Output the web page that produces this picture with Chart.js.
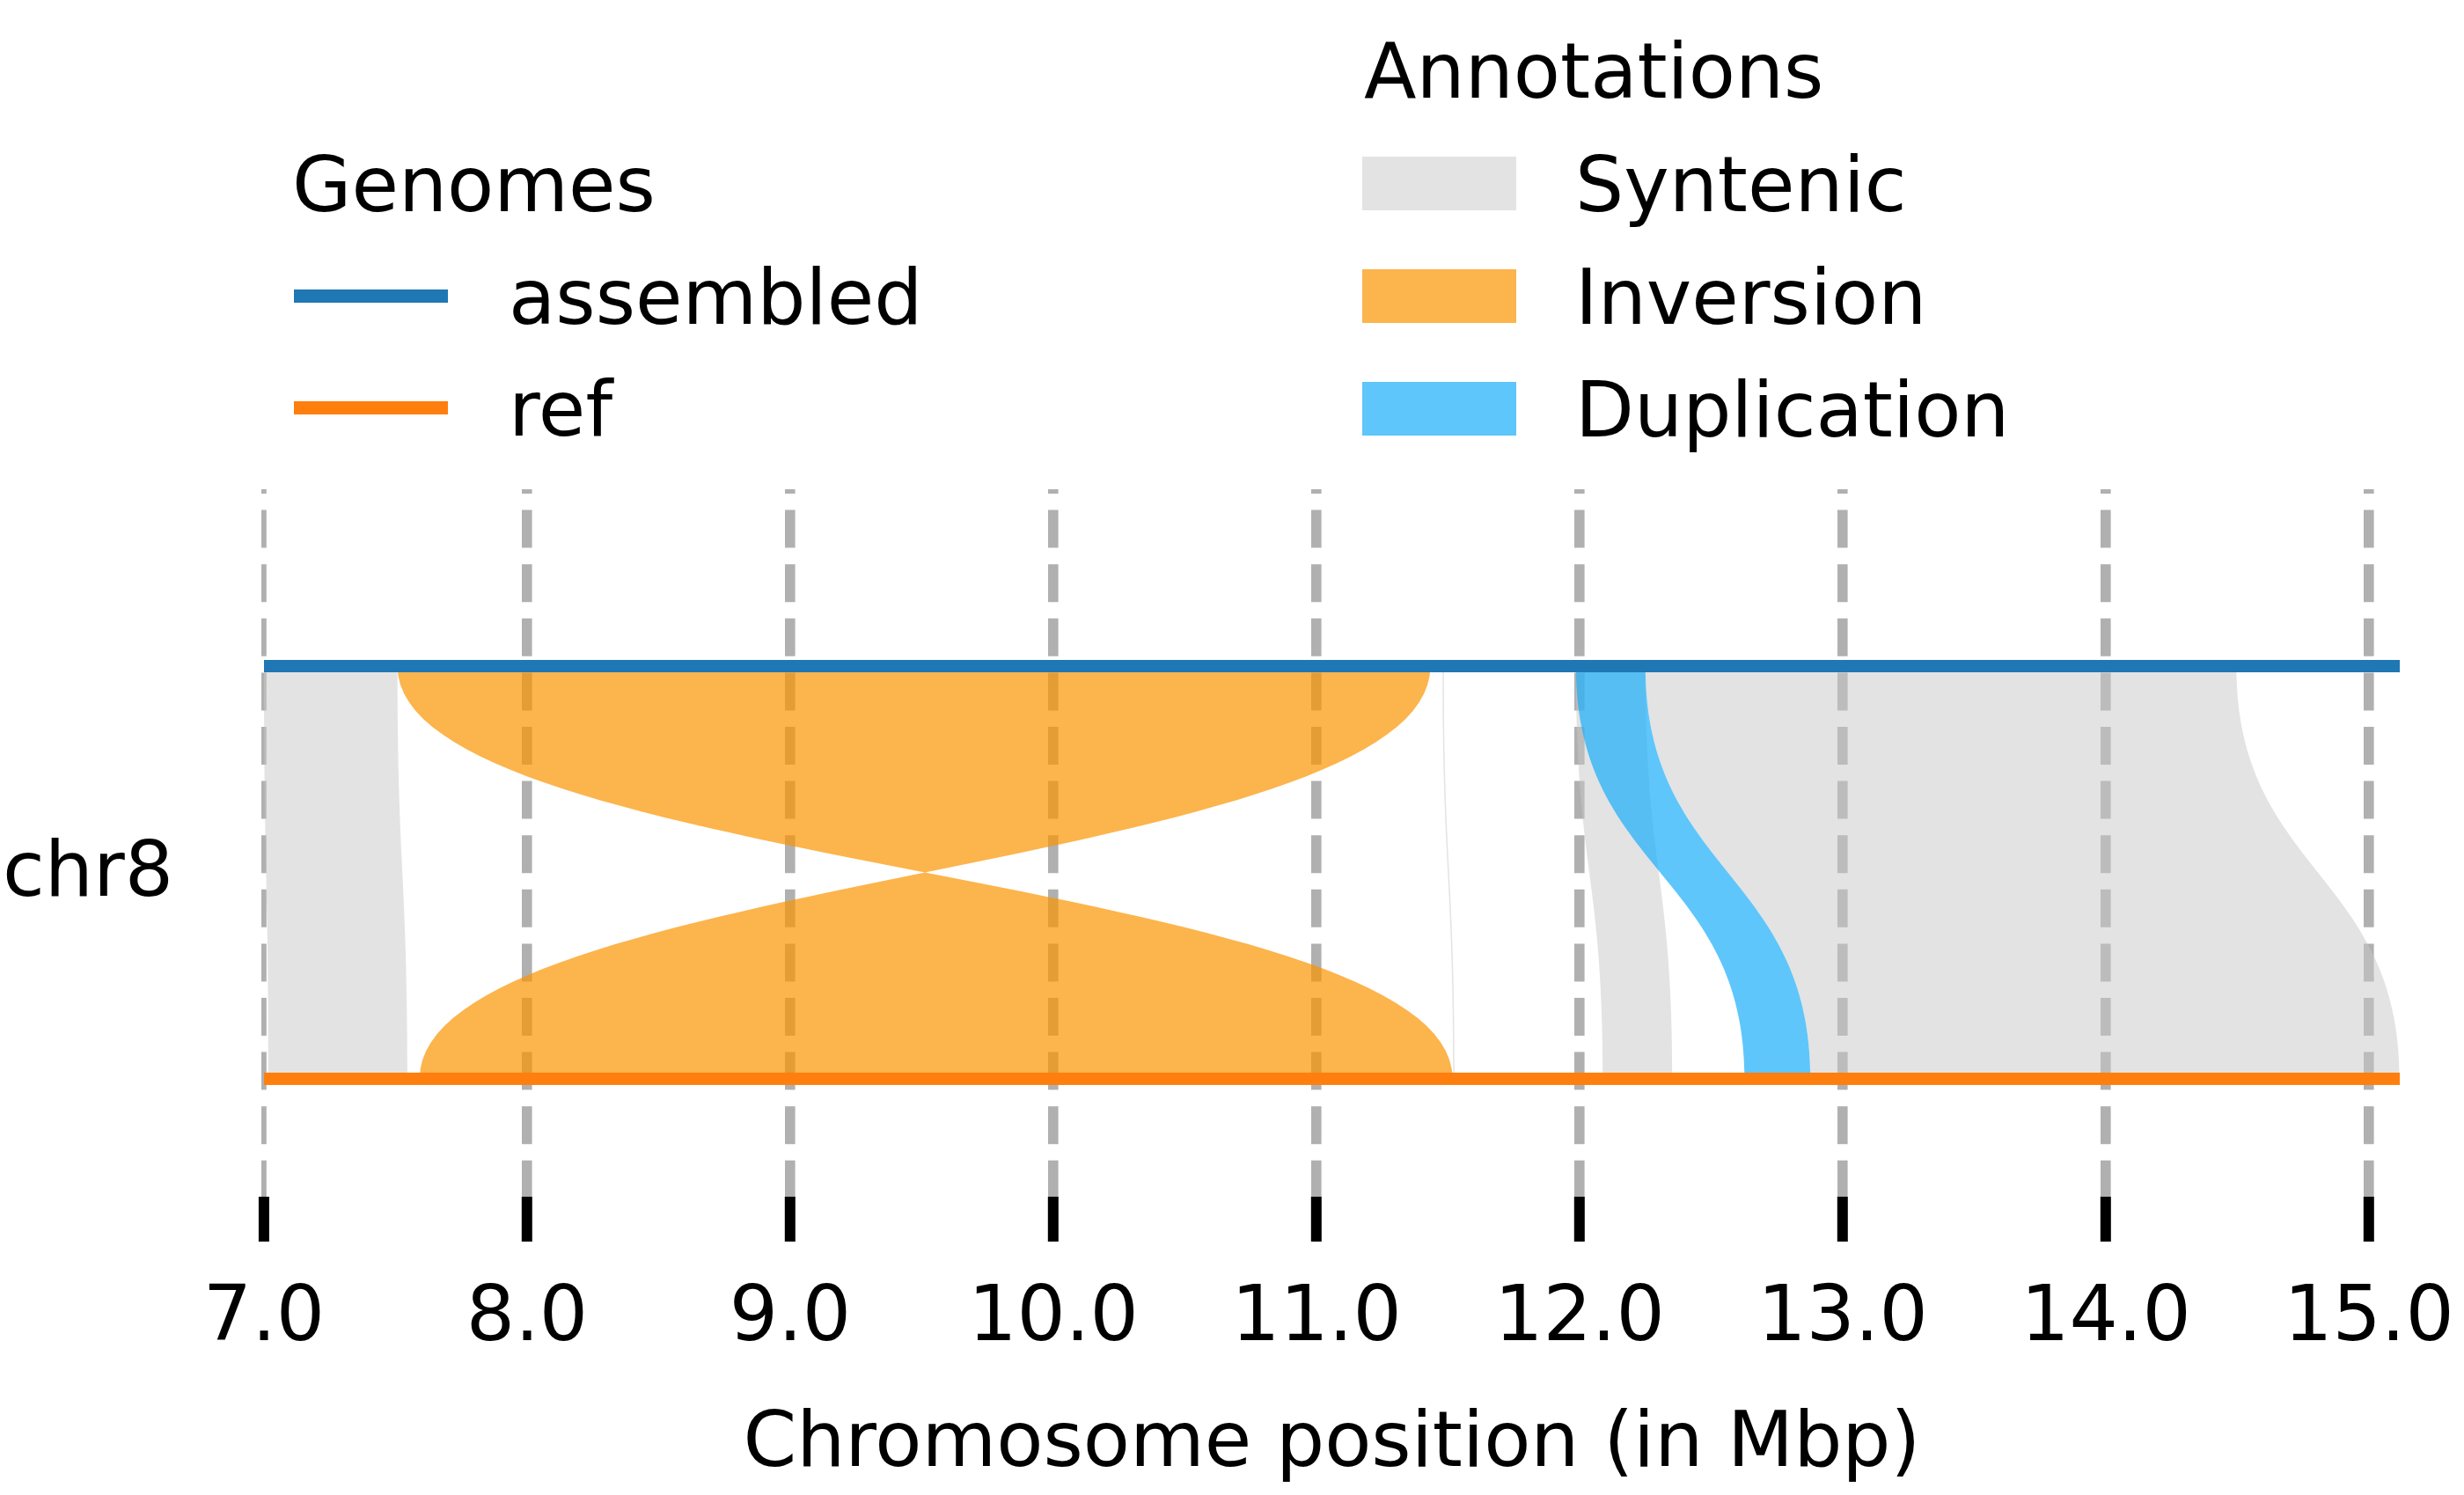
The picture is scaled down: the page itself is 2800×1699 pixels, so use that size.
<!DOCTYPE html>
<html>
<head>
<meta charset="utf-8">
<title>chr8 synteny</title>
<script src="https://cdn.jsdelivr.net/npm/chart.js@4.4.1/dist/chart.umd.min.js"></script>
<style>
  html, body { margin: 0; padding: 0; background: #fff; }
  #wrap { width: 2800px; height: 1699px; }
</style>
</head>
<body>
<div id="wrap"><canvas id="syntenyChart" width="2800" height="1699"></canvas></div>
<script>
// genomes, top row first
const genomes = ["assembled", "ref"];
const genomeColors = ["#1f77b4", "#ff7f0e"];
const genomeStart = [7.0, 7.0];
const genomeEnd = [15.117, 15.117];
const chromosomes = ["chr8"];

// blocks in Mbp, [start, end] on each genome
const syntenicAssembled = [[7.0, 7.507], [11.479, 11.484], [11.986, 12.25], [12.25, 14.496]];
const syntenicRef = [[7.017, 7.545], [11.52, 11.525], [12.089, 12.353], [12.878, 15.117]];
const inversionAssembled = [[7.507, 11.433]];
const inversionRef = [[7.593, 11.519]];
const duplicationAssembled = [[11.986, 12.25]];
const duplicationRef = [[12.628, 12.878]];

const annotationTypes = ["Syntenic", "Inversion", "Duplication"];
const annotationColors = ["rgba(200,200,200,0.5)", "rgba(251,148,0,0.7)", "rgba(25,174,248,0.7)"];

const xTicks = [7, 8, 9, 10, 11, 12, 13, 14, 15];

const FONT = "'DejaVu Sans', sans-serif";
const FONT_SIZE = 87;

Chart.defaults.font.family = FONT;
Chart.defaults.color = "#000";

// level of each genome on the y scale (top row = highest)
const level = i => genomes.length - 1 - i;

function drawRibbon(ctx, xs, yTop, yBot, a, r, inverted) {
  const a0 = xs.getPixelForValue(a[0]);
  const a1 = xs.getPixelForValue(a[1]);
  const r0 = xs.getPixelForValue(r[0]);
  const r1 = xs.getPixelForValue(r[1]);
  const mid = (yTop + yBot) / 2;
  const rEnd = inverted ? r0 : r1;
  const rStart = inverted ? r1 : r0;
  ctx.beginPath();
  ctx.moveTo(a0, yTop);
  ctx.lineTo(a1, yTop);
  ctx.bezierCurveTo(a1, mid, rEnd, mid, rEnd, yBot);
  ctx.lineTo(rStart, yBot);
  ctx.bezierCurveTo(rStart, mid, a0, mid, a0, yTop);
  ctx.closePath();
  ctx.fill();
}

const ribbonPlugin = {
  id: "ribbons",
  beforeDatasetsDraw(chart) {
    const ctx = chart.ctx;
    const xs = chart.scales.x;
    const ys = chart.scales.y;
    const yTop = ys.getPixelForValue(level(0));
    const yBot = ys.getPixelForValue(level(1));
    const groups = [
      [syntenicAssembled, syntenicRef, false],
      [inversionAssembled, inversionRef, true],
      [duplicationAssembled, duplicationRef, false]
    ];
    ctx.save();
    groups.forEach(([asm, ref, inv], g) => {
      ctx.fillStyle = annotationColors[g];
      asm.forEach((a, i) => drawRibbon(ctx, xs, yTop, yBot, a, ref[i], inv));
    });
    ctx.restore();
  }
};

// two legends: genomes (lines) and annotations (patches)
const legendPlugin = {
  id: "twoLegends",
  afterDraw(chart) {
    const ctx = chart.ctx;
    ctx.save();
    ctx.font = `${FONT_SIZE}px ${FONT}`;
    ctx.fillStyle = "#000";
    ctx.textBaseline = "alphabetic";
    ctx.fillText("Genomes", 332, 240);
    genomes.forEach((name, i) => {
      const base = 368 + i * 127;
      ctx.strokeStyle = genomeColors[i];
      ctx.lineWidth = 15;
      ctx.beginPath();
      ctx.moveTo(334, base - 31.5);
      ctx.lineTo(509, base - 31.5);
      ctx.stroke();
      ctx.fillText(name, 578, base);
    });

    ctx.fillText("Annotations", 1550, 111);
    annotationTypes.forEach((name, i) => {
      const base = 240 + i * 128;
      ctx.fillStyle = "#fff";
      ctx.fillRect(1548, base - 62, 175, 61);
      ctx.fillStyle = annotationColors[i];
      ctx.fillRect(1548, base - 62, 175, 61);
      ctx.fillStyle = "#000";
      ctx.fillText(name, 1790, base);
    });
    ctx.restore();
  }
};

const datasets = genomes.map((name, i) => ({
  label: name,
  data: [{ x: genomeStart[i], y: level(i) }, { x: genomeEnd[i], y: level(i) }],
  showLine: true,
  borderColor: genomeColors[i],
  borderWidth: 14,
  borderCapStyle: "butt",
  pointRadius: 0,
  fill: false
}));

const ctx = document.getElementById("syntenyChart").getContext("2d");
new Chart(ctx, {
  type: "scatter",
  data: { datasets },
  options: {
    responsive: false,
    devicePixelRatio: 1,
    animation: false,
    events: [],
    layout: { padding: { top: 556, right: 73, bottom: 0, left: 0 } },
    plugins: {
      legend: { display: false },
      tooltip: { enabled: false }
    },
    scales: {
      x: {
        type: "linear",
        min: 7.0,
        max: 15.117,
        afterBuildTicks: scale => { scale.ticks = xTicks.map(v => ({ value: v })); },
        afterFit: scale => { scale.height = 339; scale.paddingLeft = 0; scale.paddingRight = 0; },
        ticks: {
          autoSkip: false,
          maxRotation: 0,
          padding: 37,
          font: { size: FONT_SIZE },
          callback: v => Number(v).toFixed(1)
        },
        grid: {
          color: "#b0b0b0",
          // first line sits on the plot edge and is half hidden
          lineWidth: c => (c.index === 0 ? 5.8 : 11.6),
          tickColor: "#000",
          tickWidth: 12,
          tickLength: 51
        },
        border: { display: false, dash: [43, 18.6], dashOffset: 38 },
        title: {
          display: true,
          text: "Chromosome position (in Mbp)",
          font: { size: FONT_SIZE },
          padding: { top: 0, bottom: 3 }
        }
      },
      y: {
        type: "linear",
        min: -2 / 7,
        max: 10 / 7,
        afterBuildTicks: scale => { scale.ticks = chromosomes.map(() => ({ value: 0.5 })); },
        afterFit: scale => { scale.width = 300; },
        ticks: {
          padding: 103,
          labelOffset: 4,
          font: { size: FONT_SIZE },
          callback: (v, i) => chromosomes[i]
        },
        grid: { display: false, drawTicks: false },
        border: { display: false }
      }
    }
  },
  plugins: [ribbonPlugin, legendPlugin]
});
</script>
</body>
</html>
